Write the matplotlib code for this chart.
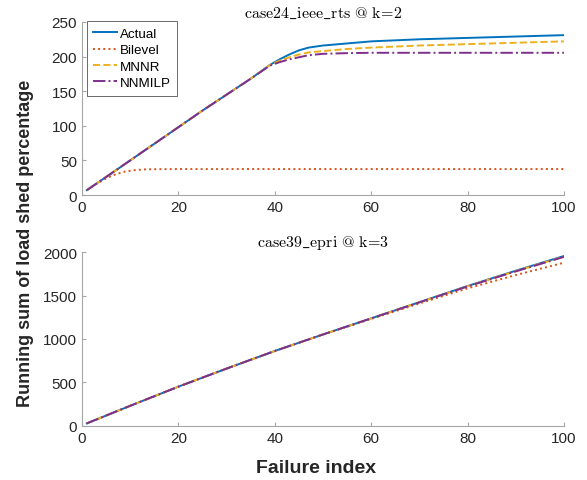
import matplotlib
matplotlib.use("Agg")
from matplotlib import pyplot as plt

plt.rcParams['font.family'] = ['Liberation Sans', 'DejaVu Sans']
plt.rcParams['mathtext.fontset'] = 'cm'

# top panel: case24_ieee_rts @ k=2
top_x = [1, 5, 10, 15, 20, 25, 30, 35, 39, 41, 43, 45, 47, 50, 55, 60, 70, 80, 90, 100]
top_actual = [7, 26, 50, 74, 98, 122, 145, 168, 188, 196, 203, 209, 213, 216, 219, 222, 225, 227, 229, 231]
top_mnnr = [7, 26, 50, 74, 98, 122, 145, 168, 188, 194, 199, 203, 206, 208, 211, 213, 216, 218, 220, 222]
top_nnmilp = [7, 26, 50, 74, 98, 122, 145, 168, 187, 192, 196, 199, 202, 204, 205, 205.5, 205.5, 205.5, 205.5, 205.5]
bil_x = [1, 3, 5, 7, 9, 11, 13, 15, 20, 40, 60, 80, 100]
top_bilevel = [7, 16, 24, 30, 34, 36, 37, 37.3, 37.5, 37.5, 37.5, 37.5, 37.5]

# bottom panel: case39_epri @ k=3
bot_x = [1, 10, 20, 30, 40, 50, 60, 70, 80, 90, 100]
bot_actual = [30, 232, 452, 660, 862, 1052, 1237, 1423, 1609, 1785, 1954]
bot_mnnr = [30, 232, 452, 660, 862, 1052, 1237, 1422, 1606, 1780, 1948]
bot_nnmilp = [30, 232, 452, 660, 862, 1052, 1237, 1421, 1604, 1777, 1944]
bot_bilevel = [30, 232, 452, 660, 862, 1050, 1230, 1408, 1582, 1735, 1877]

names = ['Actual', 'Bilevel', 'MNNR', 'NNMILP']
colors = ['#0072BD', '#D95319', '#EDB120', '#7E2F8E']
styles = ['-', ':', '--', '-.']

fig = plt.figure(figsize=(5.87, 4.81), dpi=100)
ax1 = fig.add_axes([0.1397, 0.5925, 0.821, 0.3597])
ax2 = fig.add_axes([0.1397, 0.1123, 0.821, 0.3617])

top = [(top_x, top_actual), (bil_x, top_bilevel), (top_x, top_mnnr), (top_x, top_nnmilp)]
bot = [(bot_x, bot_actual), (bot_x, bot_bilevel), (bot_x, bot_mnnr), (bot_x, bot_nnmilp)]

for (x, y), n, c, s in zip(top, names, colors, styles):
    ax1.plot(x, y, s, color=c, lw=1.4, label=n)
for (x, y), n, c, s in zip(bot, names, colors, styles):
    ax2.plot(x, y, s, color=c, lw=1.4, label=n)

ax1.set_ylim(0, 250)
ax1.set_yticks([0, 50, 100, 150, 200, 250])
ax2.set_ylim(0, 2000)
ax2.set_yticks([0, 500, 1000, 1500, 2000])

for ax in (ax1, ax2):
    ax.set_xlim(0, 100)
    ax.set_xticks([0, 20, 40, 60, 80, 100])
    ax.spines['top'].set_visible(False)
    ax.spines['right'].set_visible(False)
    for sp in ('left', 'bottom'):
        ax.spines[sp].set_color('#A6A6A6')
        ax.spines[sp].set_linewidth(0.8)
    ax.tick_params(direction='in', length=3, colors='#A6A6A6', labelcolor='#262626',
                   labelsize=11, width=0.8)

ax1.set_title(r'$\mathrm{case24\_ieee\_rts\ @\ k\!=\!2}$', fontsize=11.5, pad=4)
ax2.set_title(r'$\mathrm{case39\_epri\ @\ k\!=\!3}$', fontsize=11.5, pad=4)

leg = ax1.legend(loc='upper left', bbox_to_anchor=(0.010, 1.005), fontsize=9.6,
                 handlelength=1.8, borderaxespad=0.0, labelspacing=0.3,
                 handletextpad=0.15, fancybox=False, borderpad=0.5)
leg.get_frame().set_edgecolor('#262626')
leg.get_frame().set_linewidth(0.6)

fig.text(0.043, 0.493, 'Running sum of load shed percentage', rotation=90,
         ha='center', va='center', fontsize=13, fontweight='bold', color='#262626')
fig.text(0.538, 0.025, 'Failure index', ha='center', va='center',
         fontsize=14, fontweight='bold', color='#262626')

fig.savefig('out.png', dpi=100)
